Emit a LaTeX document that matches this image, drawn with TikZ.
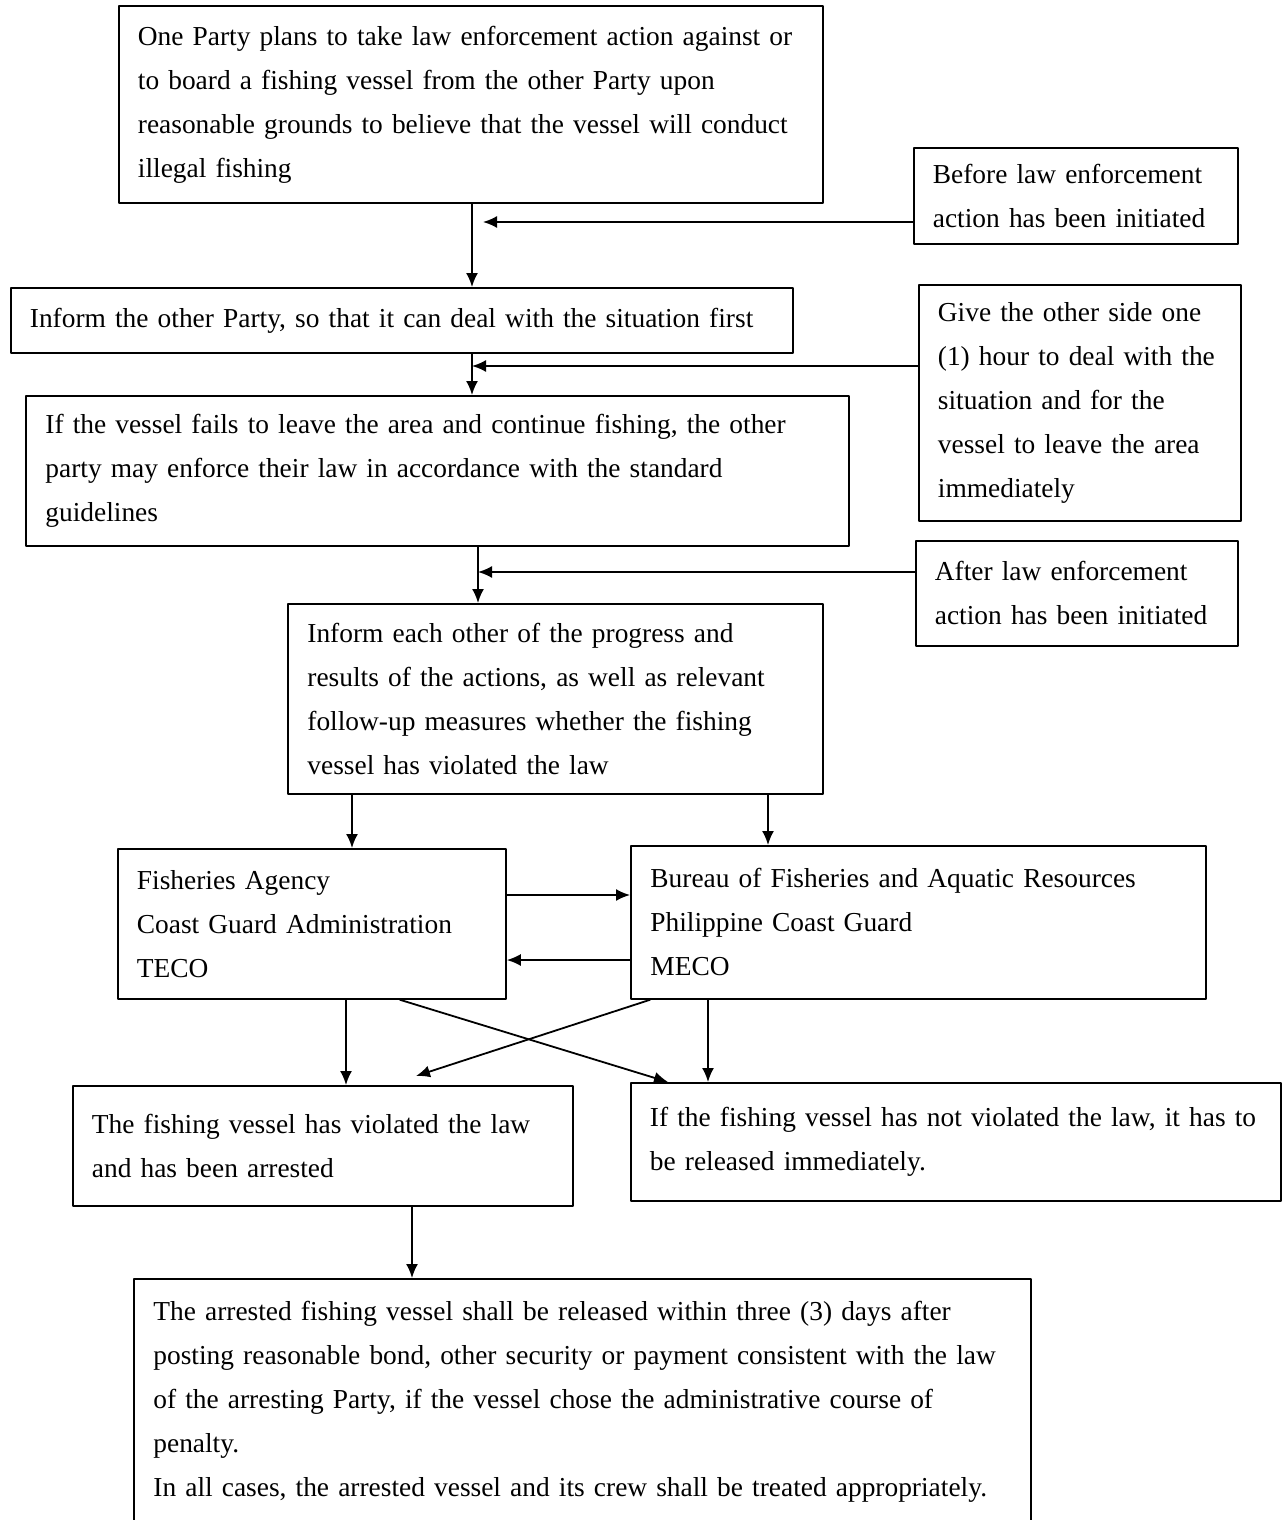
\documentclass[tikz,border=0pt]{standalone}
\usepackage{fontspec}
\setmainfont{Liberation Serif}
\usetikzlibrary{arrows.meta,positioning}

\begin{document}
\begin{tikzpicture}[x=0.5pt, y=-0.5pt, >={Latex[length=7pt,width=6pt]},
		line cap=round, line join=round]
		
		% Styles
		\tikzset{
			box/.style={draw=black, line width=0.9pt, anchor=north west,
				inner xsep=9.5pt, inner ysep=0pt, align=left,
				font=\fontsize{13.7}{22}\selectfont},
			arr/.style={->, line width=0.9pt}
		}
		
		\useasboundingbox (0,0) rectangle (1281,1520);
		
		% Nodes
		\node[box, minimum width=352pt, minimum height=98.5pt, text width=333pt] (A) at (118,5)
		{One Party plans to take law enforcement action against or\\
			to board a fishing vessel from the other Party upon\\
			reasonable grounds to believe that the vessel will conduct\\
			illegal fishing};
		
		\node[box, minimum width=162pt, minimum height=48pt, text width=143pt] (Before) at (913,147)
		{Before law enforcement\\action has been initiated};
		
		\node[box, minimum width=391pt, minimum height=32.5pt, text width=372pt] (B) at (10,287)
		{Inform the other Party, so that it can deal with the situation first};
		
		\node[box, minimum width=161pt, minimum height=118pt, text width=142pt] (Give) at (918,284)
		{Give the other side one\\(1) hour to deal with the\\situation and for the\\vessel to leave the area\\immediately};
		
		\node[box, minimum width=411.5pt, minimum height=75pt, text width=392pt] (C) at (25,395)
		{If the vessel fails to leave the area and continue fishing, the other\\
			party may enforce their law in accordance with the standard\\
			guidelines};
		
		\node[box, minimum width=161pt, minimum height=52.5pt, text width=142pt] (After) at (915,540)
		{After law enforcement\\action has been initiated};
		
		\node[box, minimum width=267.5pt, minimum height=95pt, text width=248pt] (D) at (287,603)
		{Inform each other of the progress and\\results of the actions, as well as relevant\\
			follow-up measures whether the fishing\\vessel has violated the law};
		
		\node[box, minimum width=194pt, minimum height=75pt, text width=175pt] (E) at (117,848)
		{Fisheries Agency\\Coast Guard Administration\\TECO};
		
		\node[box, minimum width=287.5pt, minimum height=76.5pt, text width=268pt] (F) at (630,845)
		{Bureau of Fisheries and Aquatic Resources\\Philippine Coast Guard\\MECO};
		
		\node[box, minimum width=250pt, minimum height=60pt, text width=231pt] (G) at (72,1085)
		{The fishing vessel has violated the law\\and has been arrested};
		
		\node[box, minimum width=325pt, minimum height=59pt, text width=306pt] (H) at (630,1082)
		{If the fishing vessel has not violated the law, it has to\\be released immediately.};
		
		\node[box, minimum width=448.5pt, minimum height=123pt, text width=429pt] (I) at (133,1278)
		{The arrested fishing vessel shall be released within three (3) days after\\
			posting reasonable bond, other security or payment consistent with the law\\
			of the arresting Party, if the vessel chose the administrative course of\\
			penalty.\\
			In all cases, the arrested vessel and its crew shall be treated appropriately.};
		
		% Join points
		\coordinate (j1) at (483,222);
		\coordinate (j2) at (472,366);
		\coordinate (j3) at (478,572);
		\coordinate (k1) at (352,0);
		\coordinate (k2) at (768,0);
		\coordinate (m1) at (0,895);
		\coordinate (m2) at (0,960);
		\coordinate (n1) at (346,0);
		\coordinate (n2) at (708,0);
		\coordinate (n3) at (412,0);
		\coordinate (xE) at (400,0);
		\coordinate (xH) at (668,1082);
		\coordinate (xF) at (650,0);
		\coordinate (xG) at (416,1076);
		
		% Arrows
		\draw[arr] (A.south -| j2) -- (B.north -| j2);
		\draw[arr] (Before.west |- j1) -- (j1);
		\draw[arr] (B.south -| j2) -- (C.north -| j2);
		\draw[arr] (Give.west |- j2) -- (j2);
		\draw[arr] (C.south -| j3) -- (D.north -| j3);
		\draw[arr] (After.west |- j3) -- (j3);
		
		\draw[arr] (D.south -| k1) -- (E.north -| k1);
		\draw[arr] (D.south -| k2) -- (F.north -| k2);
		
		\draw[arr] (E.east |- m1) -- (F.west |- m1);
		\draw[arr] (F.west |- m2) -- (E.east |- m2);
		
		\draw[arr] (E.south -| n1) -- (G.north -| n1);
		\draw[arr] (F.south -| n2) -- (H.north -| n2);
		\draw[arr] (E.south -| xE) -- (xH);
		\draw[arr] (F.south -| xF) -- (xG);
		
		\draw[arr] (G.south -| n3) -- (I.north -| n3);
		
	\end{tikzpicture}
\end{document}
